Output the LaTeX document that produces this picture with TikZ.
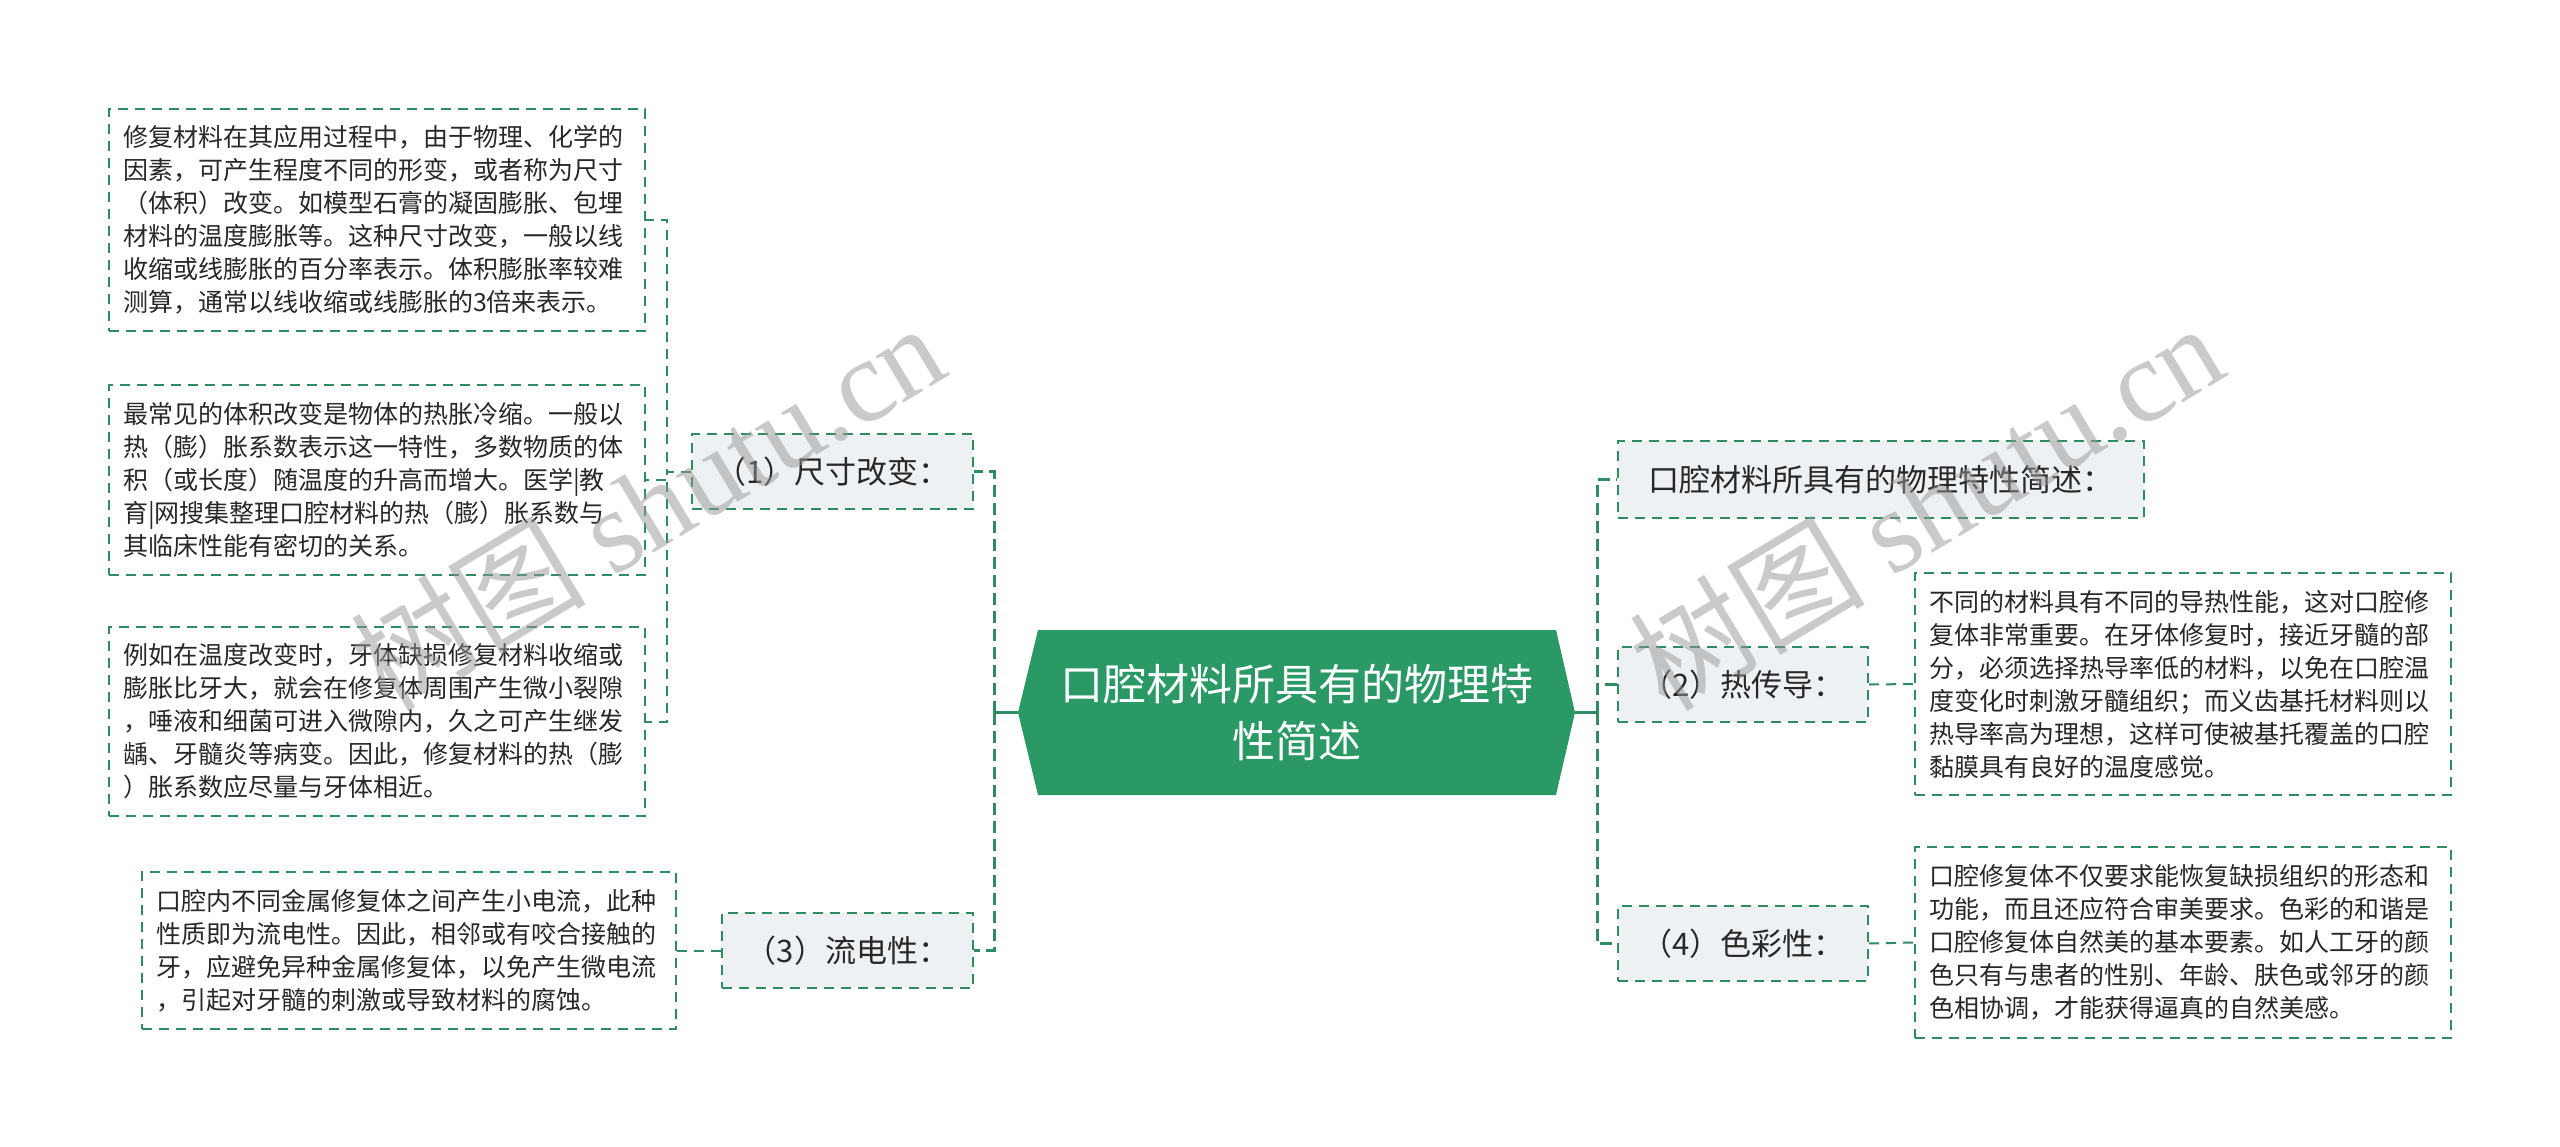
\documentclass[tikz,border=0pt]{standalone}
\usepackage{fontspec}
\setmainfont{Noto Sans CJK SC}
\newfontfamily\wmserif{Liberation Serif}
\definecolor{lineg}{RGB}{46,139,98}
\definecolor{hexg}{RGB}{42,153,102}
\definecolor{subfill}{RGB}{238,241,244}
\definecolor{txt}{RGB}{40,40,40}
\definecolor{wm}{RGB}{150,150,150}
\begin{document}
\begin{tikzpicture}[x=1pt,y=-1pt,
  tbox/.style={draw=lineg, line width=2pt, dash pattern=on 10pt off 7pt, fill=white, text=txt,
    text width=508pt, inner xsep=14pt, inner ysep=4pt, align=left,
    font=\fontsize{25}{33}\selectfont, anchor=center},
  sub/.style={draw=lineg, line width=2pt, dash pattern=on 10pt off 7pt, fill=subfill, text=txt,
    minimum height=75pt, font=\fontsize{31}{36}\selectfont, inner sep=0pt, anchor=center},
  conn/.style={draw=lineg, line width=3pt, dash pattern=on 12pt off 6pt},
  thinconn/.style={draw=lineg, line width=2pt, dash pattern=on 10pt off 7pt},
  solidconn/.style={draw=lineg, line width=3pt},
  wmark/.style={text=wm, opacity=0.5, rotate=31, inner sep=0pt}
]
\useasboundingbox (0,0) rectangle (2560,1147);
\fill[white] (0,0) rectangle (2560,1147);

% central hexagon
\fill[hexg] (1018,712.5) -- (1038,630) -- (1556,630) -- (1575,712.5) -- (1556,795) -- (1038,795) -- cycle;
\coordinate (hexL) at (1018,712.5);
\coordinate (hexR) at (1575,712.5);
\node[text=white, align=center, font=\fontsize{43}{57}\selectfont, inner sep=0pt] (hex) at (1297,712.5)
  {口腔材料所具有的物理特\\性简述};

% left side
\node[sub, minimum width=281pt] (n1) at (832.5,471.5) {（1）尺寸改变：};
\node[sub, minimum width=251pt] (n3) at (847.5,950.5) {（3）流电性：};

\node[tbox, minimum height=222pt] (b1) at (377,220) {修复材料在其应用过程中，由于物理、化学的\\因素，可产生程度不同的形变，或者称为尺寸\\（体积）改变。如模型石膏的凝固膨胀、包埋\\材料的温度膨胀等。这种尺寸改变，一般以线\\收缩或线膨胀的百分率表示。体积膨胀率较难\\测算，通常以线收缩或线膨胀的3倍来表示。};
\node[tbox, minimum height=190pt] (b2) at (377,480) {最常见的体积改变是物体的热胀冷缩。一般以\\热（膨）胀系数表示这一特性，多数物质的体\\积（或长度）随温度的升高而增大。医学|教\\育|网搜集整理口腔材料的热（膨）胀系数与\\其临床性能有密切的关系。};
\node[tbox, minimum height=189pt] (b3) at (377,721.5) {例如在温度改变时，牙体缺损修复材料收缩或\\膨胀比牙大，就会在修复体周围产生微小裂隙\\，唾液和细菌可进入微隙内，久之可产生继发\\龋、牙髓炎等病变。因此，修复材料的热（膨\\）胀系数应尽量与牙体相近。};
\node[tbox, minimum height=157pt, text width=506pt] (b4) at (409,950.5) {口腔内不同金属修复体之间产生小电流，此种\\性质即为流电性。因此，相邻或有咬合接触的\\牙，应避免异种金属修复体，以免产生微电流\\，引起对牙髓的刺激或导致材料的腐蚀。};

% right side
\node[sub, minimum width=526pt, minimum height=77pt] (t) at (1881,479.5) {口腔材料所具有的物理特性简述：};
\node[sub, minimum width=250pt] (n2) at (1743,684.5) {（2）热传导：};
\node[sub, minimum width=250pt] (n4) at (1743,943.5) {（4）色彩性：};

\node[tbox, minimum height=222pt] (r2) at (2183,684) {不同的材料具有不同的导热性能，这对口腔修\\复体非常重要。在牙体修复时，接近牙髓的部\\分，必须选择热导率低的材料，以免在口腔温\\度变化时刺激牙髓组织；而义齿基托材料则以\\热导率高为理想，这样可使被基托覆盖的口腔\\黏膜具有良好的温度感觉。};
\node[tbox, minimum height=191pt] (r4) at (2183,942.5) {口腔修复体不仅要求能恢复缺损组织的形态和\\功能，而且还应符合审美要求。色彩的和谐是\\口腔修复体自然美的基本要素。如人工牙的颜\\色只有与患者的性别、年龄、肤色或邻牙的颜\\色相协调，才能获得逼真的自然美感。};

% connectors: hexagon to first level
\coordinate (mL) at (994,712.5);
\coordinate (mR) at (1597,712.5);
\draw[solidconn] (hexL) -- (mL);
\draw[solidconn] (hexR) -- (mR);
\draw[conn] (mL) |- (n1.east);
\draw[conn] (mL) |- (n3.east);
\draw[conn] (mR) |- (t.west);
\draw[conn] (mR) |- (n2.west);
\draw[conn] (mR) |- (n4.west);

% second level
\draw[thinconn] (n1.west) -- ++(-24,0) |- (b1.east);
\draw[thinconn] (n1.west) -- ++(-24,0) |- (b2.east);
\draw[thinconn] (n1.west) -- ++(-24,0) |- (b3.east);
\draw[thinconn] (n3.west) -- (b4.east);
\draw[thinconn] (n2.east) -- (r2.west);
\draw[thinconn] (n4.east) -- (r4.west);

% watermarks
\node[wmark, font=\fontsize{118}{118}\selectfont] (wm1) at (647,505) {树图 {\wmserif shutu.cn}};
\node[wmark, font=\fontsize{118}{118}\selectfont] (wm2) at (1926,505) {树图 {\wmserif shutu.cn}};
\end{tikzpicture}
\end{document}
